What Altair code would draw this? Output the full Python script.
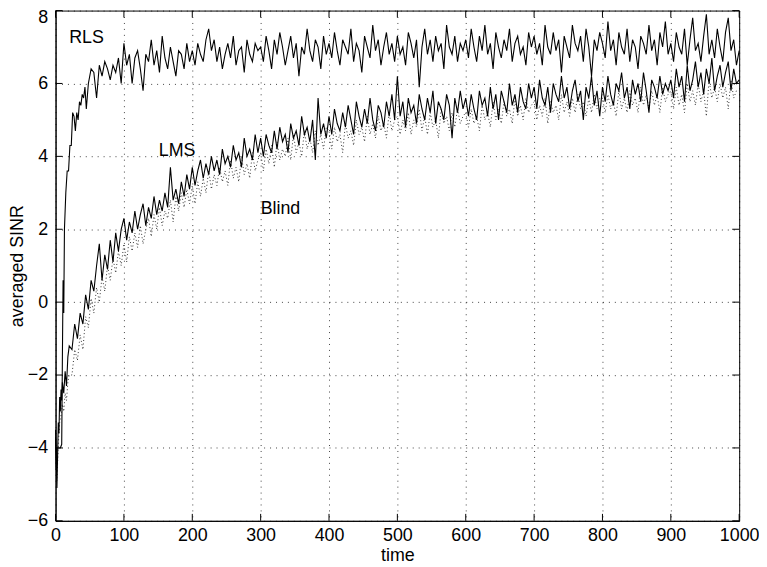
import altair as alt
import pandas as pd

FONT = "Liberation Sans"
FS = 18

x_ticks = list(range(0, 1001, 100))
y_ticks = list(range(-6, 9, 2))

# ---- RLS ----
rls_t_early = [0, 1, 2, 3, 5, 7, 9, 10, 11, 12, 13, 15, 17, 19, 21, 23, 25, 27,
               29, 31, 33, 35, 37, 39, 41, 43, 45]
rls_v_early = [-3.5, -4.6, -4.0, -4.0, -4.0, -4.0, -3.9, -1.5, 0.6, -0.3, 2.0, 3.0,
               3.6, 3.6, 4.3, 4.3, 5.2, 5.1, 4.7, 5.2, 5.0, 5.5, 5.4, 5.7, 5.6, 5.9,
               5.3]
# t = 48, 52, ..., 1000
rls_v_late = [
    6.0, 6.4, 6.3, 5.6, 6.5, 6.2, 6.6, 6.4, 6.1, 6.5, 6.3, 6.7, 6.0,
    7.1, 6.5, 6.8, 6.0, 6.7, 6.9, 6.4, 5.8, 6.8, 6.6, 7.2, 6.5, 6.9, 6.3, 7.3, 6.7, 6.4, 7.0, 6.6, 6.2, 6.9, 6.8, 6.4, 7.1, 6.6,
    6.9, 6.5, 7.1, 6.8, 6.6, 7.2, 7.5, 6.9, 7.2, 6.6, 7.0, 6.4, 6.8, 7.1, 6.7, 7.3, 6.5, 6.9, 7.0, 6.3, 7.2, 6.8, 6.6, 7.1, 6.9,
    7.0, 6.6, 7.3, 6.9, 6.4, 7.2, 6.8, 7.4, 7.0, 6.5, 6.9, 7.3, 6.7, 7.1, 6.2, 7.0, 6.8, 7.5, 6.9, 6.6, 7.2, 7.0, 6.4, 7.3, 6.8,
    7.1, 6.7, 7.4, 6.9, 6.5, 7.2, 7.0, 6.8, 7.5, 6.6, 7.1, 6.9, 6.3, 7.3, 7.0, 6.7, 7.6, 6.9, 7.2, 6.5, 7.0, 7.4, 6.8, 7.1, 6.6,
    7.3, 6.8, 7.0, 6.5, 7.4, 7.1, 6.7, 7.2, 5.9, 7.0, 7.5, 6.8, 7.2, 6.6, 7.3, 6.9, 7.1, 6.4, 7.6, 7.0, 6.8, 7.3, 6.6, 7.1, 6.9,
    7.2, 6.7, 7.5, 7.0, 6.6, 7.3, 6.9, 7.6, 6.8, 7.1, 6.4, 7.4, 7.0, 6.7, 7.2, 6.9, 7.5, 6.6, 7.1, 7.3, 6.8, 7.0, 6.5, 7.4, 7.0,
    7.3, 6.8, 7.1, 6.5, 7.6, 7.0, 6.8, 7.4, 6.9, 7.2, 6.3, 7.3, 7.0, 6.7, 7.6, 7.1, 6.9, 7.3, 6.6, 7.5, 7.0, 6.2, 7.2, 6.9, 7.4,
    7.1, 6.7, 7.7, 6.9, 7.2, 6.5, 7.4, 7.0, 6.8, 7.5, 6.6, 7.2, 7.0, 6.4, 7.3, 7.1, 6.8, 7.6, 6.9, 7.2, 6.5, 7.4, 7.0, 7.7, 6.8,
    7.1, 6.6, 7.4, 7.0, 6.8, 7.5, 6.5, 7.2, 7.8, 6.9, 7.1, 6.6, 7.3, 7.9, 6.8, 7.2, 6.7, 7.5, 7.0, 6.6, 7.4, 7.8, 6.9, 7.2, 6.5,
    6.9,
]

# ---- LMS ----
lms_t_early = [0, 1, 2, 3, 4, 5, 6, 7, 8, 9, 10, 12, 14, 16, 18, 20]
lms_v_early = [-3.7, -4.3, -5.1, -4.2, -3.3, -3.6, -2.6, -3.0, -2.4, -2.7, -2.2,
               -2.5, -1.9, -2.3, -1.5, -1.2]
# t = 24, 28, ..., 1000
lms_v_late = [
    -1.3, -0.6, -1.0, -0.3, -0.6, 0.2, -0.2, 0.6, 0.3, 1.0, 1.6, 0.6, 1.3, 0.9, 1.7, 1.1, 1.9, 1.4, 2.0,
    2.3, 1.7, 2.2, 1.9, 2.5, 2.0, 2.4, 2.7, 2.1, 2.6, 2.3, 2.9, 2.4, 2.8, 2.5, 3.0, 2.6, 3.7, 2.8, 3.1, 2.7, 3.3, 2.9, 3.5, 3.1,
    3.7, 3.2, 3.6, 3.9, 3.4, 3.8, 3.5, 4.0, 3.6, 3.9, 3.5, 4.2, 3.8, 4.0, 3.7, 4.3, 3.9, 4.1, 3.7, 4.5, 4.0, 4.2, 3.9, 4.6, 4.1,
    4.5, 4.0, 4.6, 4.3, 4.1, 4.7, 4.2, 4.8, 4.4, 4.6, 4.1, 4.9, 4.5, 4.7, 4.3, 5.1, 4.6, 4.8, 4.4, 5.0, 3.9, 5.6, 4.6, 4.9, 4.5,
    5.1, 4.6, 5.3, 4.9, 4.7, 5.2, 4.8, 5.4, 5.0, 4.6, 5.5, 5.1, 4.8, 5.3, 4.9, 5.6, 5.0, 4.7, 5.4, 5.2, 4.8, 5.5, 5.1, 5.7, 5.0,
    6.2, 5.1, 5.5, 4.8, 5.6, 5.2, 5.4, 4.9, 5.7, 5.3, 5.0, 5.6, 5.2, 5.8, 4.9, 5.5, 5.3, 5.0, 5.7, 5.4, 4.5, 5.6, 5.2, 5.8, 5.3,
    5.6, 5.1, 5.7, 5.3, 5.0, 5.8, 5.4, 5.6, 5.1, 5.9, 5.3, 5.7, 5.0, 5.8, 5.5, 5.2, 6.0, 5.4, 5.7, 5.2, 5.9, 5.5, 5.3, 6.0, 5.6,
    5.9, 5.3, 6.1, 5.6, 5.4, 5.9, 5.2, 6.0, 5.7, 5.5, 6.2, 5.6, 5.9, 5.3, 5.8, 6.1, 5.5, 5.8, 5.0, 5.9, 5.6, 6.2, 5.4, 5.8, 5.1,
    5.9, 5.5, 6.2, 5.7, 5.4, 6.0, 5.8, 6.3, 5.6, 5.9, 5.3, 6.1, 5.7, 6.0, 5.5, 6.3, 5.8, 5.2, 6.1, 5.9, 5.6, 6.2, 5.7, 6.0, 5.8,
    6.1, 5.6, 6.4, 5.9, 6.2, 5.5, 6.5, 5.8, 6.1, 6.6, 5.9, 6.3, 5.7, 6.4, 6.0, 6.7, 5.8, 6.2, 6.5, 5.9, 6.3, 6.6, 5.8, 6.4, 6.0,
    6.1,
]

# ---- Blind ----
blind_t_early = [0, 2, 4, 6, 8, 10, 12, 14, 16, 18, 20]
blind_v_early = [-4.3, -4.9, -3.9, -3.3, -3.1, -2.8, -3.0, -2.5, -2.7, -2.2, -2.0]
# t = 24, 28, ..., 1000
blind_v_late = [
    -2.0, -1.3, -1.6, -0.9, -1.3, -0.4, -0.7, 0.1, -0.3, 0.4, 0.0, 0.7, 0.3, 1.0, 0.6, 1.2, 0.8, 1.4, 1.0,
    1.6, 1.1, 1.8, 1.4, 1.9, 1.5, 2.1, 1.6, 2.0, 2.3, 1.8, 2.4, 2.0, 2.6, 2.1, 2.5, 2.3, 2.8, 2.2, 2.9, 2.5, 3.0, 2.6, 3.1, 2.7,
    3.2, 2.7, 3.3, 2.9, 3.4, 3.0, 3.6, 3.1, 3.5, 3.2, 3.7, 3.3, 3.6, 3.2, 3.9, 3.4, 3.7, 3.3, 4.0, 3.5, 3.8, 3.4, 4.1, 3.6, 3.9,
    4.1, 3.6, 4.2, 3.8, 4.3, 3.7, 4.4, 3.9, 4.2, 4.0, 4.5, 3.9, 4.6, 4.1, 4.4, 4.0, 4.7, 4.2, 4.5, 4.1, 4.7, 4.3, 4.6, 4.2, 4.8,
    4.7, 4.2, 4.8, 4.4, 4.6, 4.1, 4.9, 4.5, 4.7, 4.3, 5.0, 4.6, 4.8, 4.4, 5.1, 4.6, 4.9, 4.5, 5.1, 4.7, 4.9, 4.5, 5.2, 4.7, 5.0,
    5.1, 4.6, 5.0, 4.7, 5.2, 4.6, 5.0, 4.8, 5.3, 4.7, 5.1, 4.6, 5.2, 4.8, 5.0, 4.5, 5.3, 4.9, 5.1, 4.7, 5.2, 4.8, 5.3, 4.9, 5.1,
    5.2, 4.8, 5.3, 4.9, 5.1, 4.7, 5.4, 5.0, 5.2, 4.8, 5.5, 5.0, 5.3, 4.9, 5.5, 5.1, 5.3, 4.9, 5.6, 5.1, 5.4, 5.0, 5.6, 5.2, 5.4,
    5.5, 5.0, 5.4, 5.1, 5.6, 4.9, 5.5, 5.2, 5.4, 5.0, 5.7, 5.2, 5.5, 5.1, 5.6, 5.2, 5.7, 5.3, 5.5, 5.1, 5.6, 5.2, 5.7, 5.3, 5.6,
    5.6, 5.2, 5.7, 5.3, 5.5, 5.1, 5.8, 5.3, 5.6, 5.2, 5.8, 5.4, 5.6, 5.2, 5.9, 5.4, 5.7, 5.3, 5.8, 5.4, 5.7, 5.2, 5.9, 5.5, 5.7,
    5.8, 5.3, 5.9, 5.4, 5.7, 5.2, 6.0, 5.5, 5.8, 5.4, 6.0, 5.5, 5.8, 5.1, 6.1, 5.6, 5.9, 5.5, 6.0, 5.6, 5.9, 5.3, 6.1, 5.6, 5.8,
    5.8,
]

label_names = ["RLS", "LMS", "Blind"]
label_time = [20, 151, 300]
label_sinr = [7.25, 4.15, 2.55]


def series(t_early, v_early, start, v_late, step=4):
    t = t_early + list(range(start, start + step * len(v_late), step))
    return pd.DataFrame({"time": t, "sinr": v_early + v_late})


rls_df = series(rls_t_early, rls_v_early, 48, rls_v_late)
lms_df = series(lms_t_early, lms_v_early, 24, lms_v_late)
blind_df = series(blind_t_early, blind_v_early, 24, blind_v_late)
labels_df = pd.DataFrame({"time": label_time, "sinr": label_sinr, "name": label_names})
xt_df = pd.DataFrame({"time": x_ticks})
yt_df = pd.DataFrame({"sinr": y_ticks})

W, H = 690, 515

x_enc = alt.X(
    "time:Q",
    scale=alt.Scale(domain=[0, 1000], nice=False, zero=False),
    axis=alt.Axis(
        values=x_ticks, format="d", title="time", ticks=False,
        grid=True, gridDash=[1, 5], gridColor="#000", gridOpacity=0.75, gridWidth=1,
        domainColor="black", domainWidth=1,
        labelFont=FONT, labelFontSize=FS, labelColor="black", labelPadding=6,
        titleFont=FONT, titleFontSize=FS, titleFontWeight="normal", titleColor="black",
        titleX=W / 2, titleY=35, titleBaseline="middle", labelFlush=False,
    ),
)
y_enc = alt.Y(
    "sinr:Q",
    scale=alt.Scale(domain=[-6, 8], nice=False, zero=False),
    axis=alt.Axis(
        values=y_ticks, format="d", title="averaged SINR", ticks=False,
        grid=True, gridDash=[1, 5], gridColor="#000", gridOpacity=0.75, gridWidth=1,
        domainColor="black", domainWidth=1,
        labelFont=FONT, labelFontSize=FS, labelColor="black", labelPadding=8,
        labelOffset={"condition": {"test": "datum.value == 8", "value": 7}, "value": 0},
        titleFont=FONT, titleFontSize=FS, titleFontWeight="normal", titleColor="black",
        titleAngle=270, titleX=-38, titleY=H / 2, titleBaseline="middle",
        titleAlign="center", labelFlush=False,
    ),
)

blind = alt.Chart(blind_df).mark_line(
    color="#333", strokeWidth=1, strokeDash=[1, 2.5]
).encode(x=x_enc, y=y_enc)
lms = alt.Chart(lms_df).mark_line(color="black", strokeWidth=1.1).encode(x=x_enc, y=y_enc)
rls = alt.Chart(rls_df).mark_line(color="black", strokeWidth=1.1).encode(x=x_enc, y=y_enc)

texts = alt.Chart(labels_df).mark_text(
    align="left", baseline="middle", font=FONT, fontSize=FS, color="black"
).encode(x=x_enc, y=y_enc, text="name:N")

tick_len = 7
xb = alt.Chart(xt_df).mark_rule(color="black", strokeWidth=1).encode(
    x=x_enc, y=alt.value(H), y2=alt.value(H - tick_len))
xtop = alt.Chart(xt_df).mark_rule(color="black", strokeWidth=1).encode(
    x=x_enc, y=alt.value(0), y2=alt.value(tick_len))
yl = alt.Chart(yt_df).mark_rule(color="black", strokeWidth=1).encode(
    y=y_enc, x=alt.value(0), x2=alt.value(tick_len))
yr = alt.Chart(yt_df).mark_rule(color="black", strokeWidth=1).encode(
    y=y_enc, x=alt.value(W), x2=alt.value(W - tick_len))

chart = alt.layer(blind, lms, rls, texts, xb, xtop, yl, yr).properties(
    width=W, height=H,
    autosize=alt.AutoSizeParams(type="none"),
    padding={"left": 48, "top": 0, "right": 20, "bottom": 43},
    background="white",
).configure_view(stroke="black", strokeWidth=1)

chart.save("out.html", embed_options={"renderer": "svg", "actions": False})
